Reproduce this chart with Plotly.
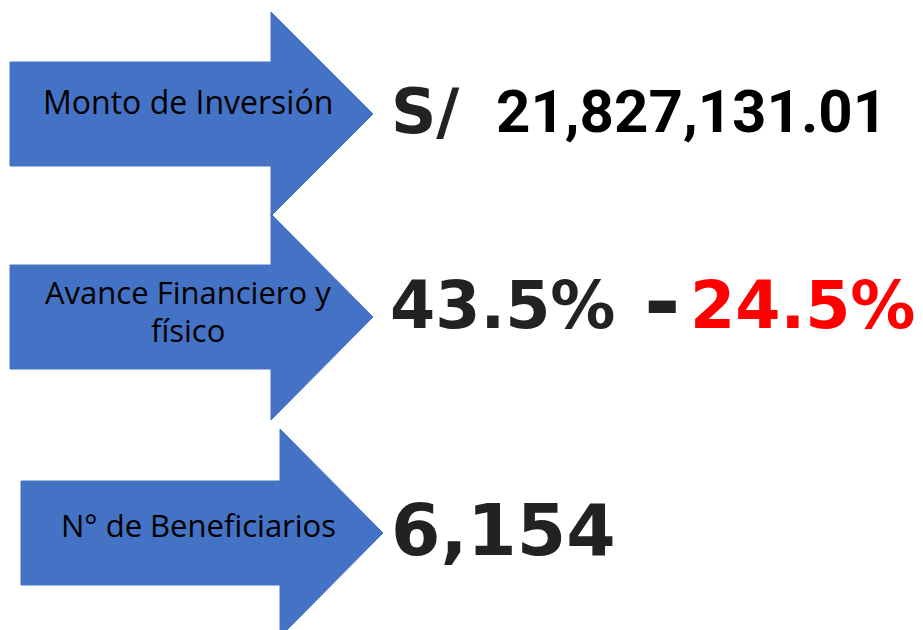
import plotly.graph_objects as go

# arrow labels and the values they point to
labels = ['Monto de Inversión', 'Avance Financiero y<br>físico', 'N° de Beneficiarios']
currency = 'S/'
investment = '21,827,131.01'
progress_fin = '43.5%'
progress_phys = '24.5%'
beneficiaries = '6,154'

BLUE = '#4472C4'
DARK = '#222222'
W, H = 923, 630


def arrow_xy(x0, x_neck, x_tip, y_mid, body_half, head_half):
    """Outline of a block arrow pointing right."""
    xs = [x0, x_neck, x_neck, x_tip, x_neck, x_neck, x0, x0]
    ys = [y_mid - body_half, y_mid - body_half, y_mid - head_half, y_mid,
          y_mid + head_half, y_mid + body_half, y_mid + body_half, y_mid - body_half]
    return xs, ys


fig = go.Figure()

arrows = [
    arrow_xy(10, 271, 373, 114, 52, 102),
    arrow_xy(10, 271, 373, 317, 52, 103),
    arrow_xy(21, 280, 383, 533, 52, 104),
]
for xs, ys in arrows:
    fig.add_trace(go.Scatter(
        x=xs, y=ys, mode='lines', fill='toself',
        fillcolor=BLUE, line=dict(color=BLUE, width=1),
        hoverinfo='skip',
    ))

label_font = dict(family='Open Sans, sans-serif', size=31, color='black')
fig.add_annotation(x=188, y=116, text=labels[0], yshift=-9,
                   font=dict(family='Open Sans, sans-serif', size=32, color='black'))
line1, line2 = labels[1].split('<br>')
fig.add_annotation(x=188, y=306, text=line1, font=label_font, yshift=-9)
fig.add_annotation(x=188, y=344, text=line2, font=label_font, yshift=-9)
fig.add_annotation(x=198, y=539, text=labels[2], font=label_font, yshift=-9)

big = dict(family='DejaVu Sans, sans-serif', size=65, color=DARK)
fig.add_annotation(x=389, y=135, text='<b>%s</b>' % currency, xanchor='left', yshift=-15,
                   font=dict(family='DejaVu Sans, sans-serif', size=63, color=DARK))
fig.add_annotation(x=494, y=135, text='<b>%s</b>' % investment, xanchor='left', yshift=-14,
                   font=dict(family='Roboto, sans-serif', size=60, color='black'))
fig.add_annotation(x=388, y=329, xanchor='left', yshift=-16, font=big,
                   text='<b>%s</b>' % progress_fin)
fig.add_annotation(x=662, y=333, xanchor='center', yshift=-22, text='<b>-</b>',
                   font=dict(family='DejaVu Sans, sans-serif', size=88, color=DARK))
fig.add_annotation(x=688, y=329, xanchor='left', yshift=-16,
                   font=dict(family='DejaVu Sans, sans-serif', size=65, color='#FF0000'),
                   text='<b>%s</b>' % progress_phys)
fig.add_annotation(x=389, y=557, text='<b>%s</b>' % beneficiaries, xanchor='left', yshift=-17,
                   font=dict(family='DejaVu Sans, sans-serif', size=71, color=DARK))

fig.update_annotations(showarrow=False, yanchor='bottom')

fig.update_xaxes(range=[0, W], visible=False)
fig.update_yaxes(range=[H, 0], visible=False)
fig.update_layout(
    width=W, height=H,
    margin=dict(l=0, r=0, t=0, b=0),
    showlegend=False,
    plot_bgcolor='white', paper_bgcolor='white',
)

fig.write_html('out.html', config={'displayModeBar': False},
               post_script="document.body.style.margin = '0';")
